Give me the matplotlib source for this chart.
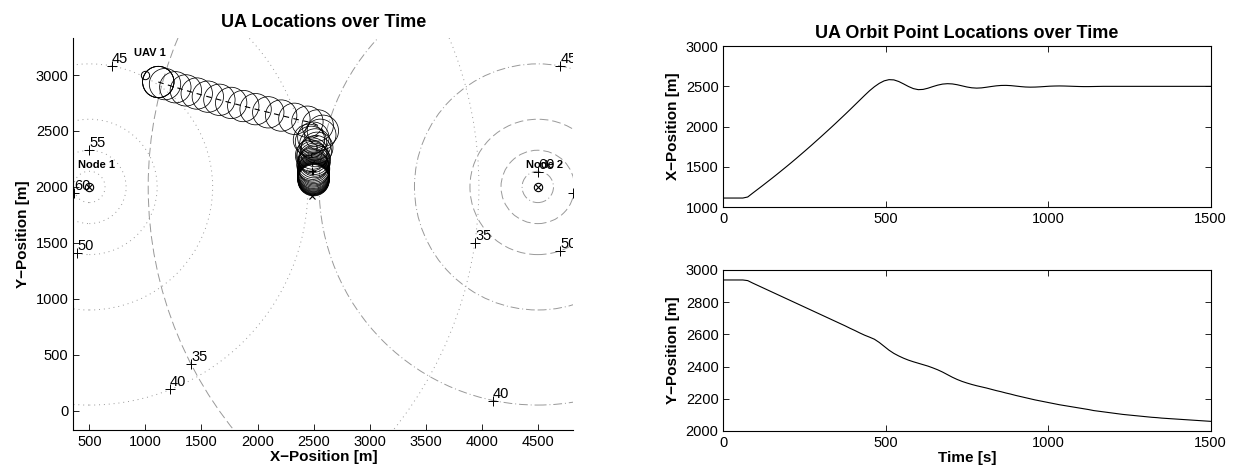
import numpy as np
import matplotlib.pyplot as plt
from matplotlib.patches import Circle

plt.rcParams['font.family'] = ['Liberation Sans', 'DejaVu Sans']

# orbit point history, one sample every 15 s
t = np.arange(0, 1501, 15)
orbit_x = [1115, 1115, 1115, 1115, 1115, 1128, 1175, 1221, 1267, 1314,
           1361, 1409, 1458, 1507, 1557, 1608, 1660, 1712, 1765, 1819,
           1873, 1928, 1983, 2039, 2096, 2153, 2211, 2270, 2329, 2388,
           2445, 2495, 2537, 2568, 2583, 2580, 2560, 2530, 2498, 2472,
           2459, 2462, 2477, 2497, 2515, 2528, 2533, 2530, 2520, 2506,
           2492, 2482, 2478, 2481, 2489, 2498, 2506, 2511, 2512, 2509,
           2503, 2497, 2492, 2490, 2491, 2494, 2498, 2502, 2504, 2505,
           2504, 2502, 2500, 2498, 2497, 2497, 2498, 2499, 2500, 2500,
           2500, 2500, 2500, 2500, 2500, 2500, 2500, 2500, 2500, 2500,
           2500, 2500, 2500, 2500, 2500, 2500, 2500, 2500, 2500, 2500, 2500]
orbit_y = [2938, 2938, 2938, 2938, 2938, 2934, 2919, 2905, 2891, 2877,
           2863, 2849, 2835, 2821, 2807, 2793, 2779, 2765, 2751, 2737,
           2723, 2709, 2695, 2681, 2667, 2653, 2638, 2624, 2609, 2595,
           2583, 2570, 2550, 2526, 2502, 2482, 2466, 2452, 2440, 2430,
           2421, 2412, 2403, 2392, 2380, 2366, 2350, 2334, 2320, 2308,
           2298, 2289, 2281, 2274, 2267, 2259, 2251, 2244, 2236, 2229,
           2221, 2214, 2207, 2200, 2193, 2187, 2181, 2175, 2169, 2163,
           2158, 2153, 2148, 2143, 2138, 2133, 2127, 2123, 2119, 2115,
           2111, 2107, 2103, 2100, 2097, 2094, 2091, 2088, 2085, 2083,
           2080, 2078, 2076, 2074, 2072, 2070, 2068, 2066, 2064, 2062, 2060]

uav_start = (1000, 3000)
uav_end = (2490, 1915)
orbit_end = (2490, 2140)

node_x = [500, 4500]
node_y = [2000, 2000]
node_names = ['Node 1', 'Node 2']

# received-signal contours: level -> radius around each node
levels = [35, 40, 45, 50, 55, 60]
radii = [3475, 1950, 1100, 605, 328, 140]

label_pts = [
    # node 1
    [(3940, 1500), (1220, 190), (700, 3080), (390, 1406), (500, 2330), (362, 1945)],
    # node 2
    [(1410, 420), (4100, 90), (4700, 3080), (4700, 1430), (4815, 1950), (4500, 2130)],
]

dot = (0, (1, 4))
dashdot = (0, (9, 3, 1, 3))
dash = (0, (9, 4))
node_styles = [[dot] * 6, [dash, dashdot, dashdot, dash, dash, dashdot]]

loiter_r = 140

fig = plt.figure(figsize=(12.38, 4.73), dpi=100)

# ---- left: map view
ax = fig.add_axes([0.0593, 0.0909, 0.4039, 0.8294])
for k in range(2):
    for r, ls in zip(radii, node_styles[k]):
        ax.add_patch(Circle((node_x[k], node_y[k]), r, fill=False,
                            ec='0.6', lw=0.7, ls=ls))
    for (px, py), lev in zip(label_pts[k], levels):
        ax.plot(px, py, '+', color='k', ms=7, mew=0.7)
        ax.text(px, py, str(lev), fontsize=10.5, ha='left', va='bottom',
                clip_on=True)

for cx, cy in zip(orbit_x[::2], orbit_y[::2]):
    ax.add_patch(Circle((cx, cy), loiter_r, fill=False, ec='k', lw=0.55))
ax.plot(orbit_x, orbit_y, '--', color='k', lw=0.8, dashes=(5, 4))

ax.plot(*uav_start, 'o', mfc='none', mec='k', ms=6, mew=0.7)
ax.plot(*uav_end, 'x', color='k', ms=5, mew=0.8)
ax.plot(*orbit_end, '+', color='k', ms=6, mew=0.8)
ax.text(uav_start[0] - 100, uav_start[1] + 195, 'UAV 1', fontsize=8,
        fontweight='bold', va='center')

ax.plot(node_x, node_y, 'o', ls='none', mfc='none', mec='k', ms=6, mew=0.8)
ax.plot(node_x, node_y, 'x', ls='none', color='k', ms=4, mew=0.8)
for nx, ny, nm in zip(node_x, node_y, node_names):
    ax.text(nx - 105, ny + 200, nm, fontsize=8, fontweight='bold',
            va='center')

ax.set_xlim(358, 4818)
ax.set_ylim(-173, 3334)
ax.set_xticks(np.arange(500, 4501, 500))
ax.set_yticks(np.arange(0, 3001, 500))
ax.spines['top'].set_visible(False)
ax.spines['right'].set_visible(False)
ax.tick_params(direction='in', length=4, width=0.6, labelsize=10.5)
ax.set_xlabel('X\u2212Position [m]', fontsize=11, fontweight='bold', labelpad=1)
ax.set_ylabel('Y\u2212Position [m]', fontsize=11, fontweight='bold')
ax.set_title('UA Locations over Time', fontsize=13, fontweight='bold', pad=8)

# ---- right: orbit point vs time
ax1 = fig.add_axes([0.5843, 0.5617, 0.3935, 0.341])
ax2 = fig.add_axes([0.5843, 0.0888, 0.3935, 0.3404])
ax1.plot(t, orbit_x, color='k', lw=0.8)
ax2.plot(t, orbit_y, color='k', lw=0.8)
ax1.set_ylim(1000, 3000)
ax1.set_yticks(np.arange(1000, 3001, 500))
ax2.set_ylim(2000, 3000)
ax2.set_yticks(np.arange(2000, 3001, 200))
for a in (ax1, ax2):
    a.set_xlim(0, 1500)
    a.set_xticks([0, 500, 1000, 1500])
    a.tick_params(direction='in', length=4, width=0.6, labelsize=10.5,
                  top=True, right=True)
ax1.set_ylabel('X\u2212Position [m]', fontsize=11, fontweight='bold')
ax2.set_ylabel('Y\u2212Position [m]', fontsize=11, fontweight='bold')
ax2.set_xlabel('Time [s]', fontsize=11, fontweight='bold', labelpad=1)
ax1.set_title('UA Orbit Point Locations over Time', fontsize=13,
              fontweight='bold', pad=6)

fig.savefig('out.png', dpi=100)
